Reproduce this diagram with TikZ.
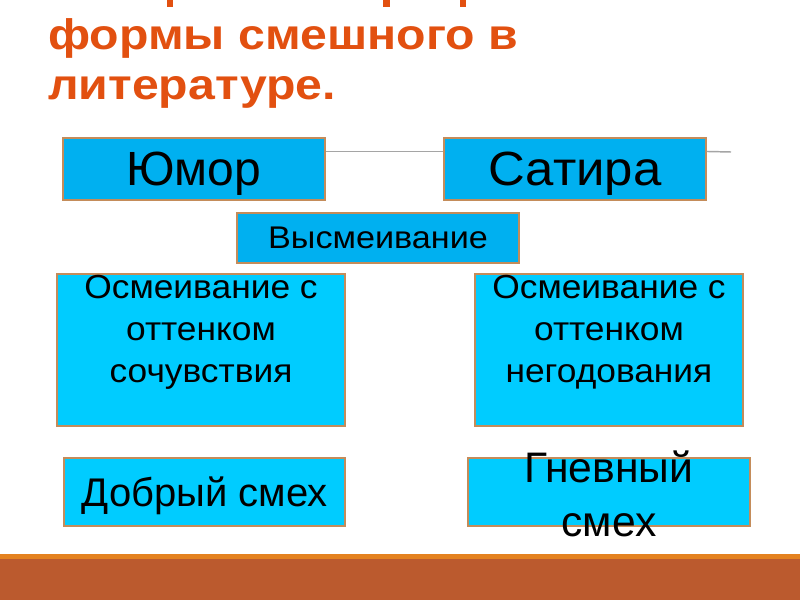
\documentclass[tikz,border=0pt]{standalone}
\usepackage{fontspec}
\setmainfont{Liberation Sans}
\newfontfamily\widefont[FakeStretch=1.06]{Liberation Sans}
\newfontfamily\widerfont[FakeStretch=1.09]{Liberation Sans}
\newfontfamily\titlefont[FakeStretch=1.13]{Liberation Sans}
\usetikzlibrary{calc}
\definecolor{titlecol}{RGB}{226,80,16}
\definecolor{topblue}{RGB}{0,176,240}
\definecolor{lowcyan}{RGB}{0,204,255}
\definecolor{edgecol}{RGB}{196,140,90}
\definecolor{linegray}{RGB}{165,165,165}
\definecolor{barorange}{RGB}{228,130,32}
\definecolor{barbrown}{RGB}{187,90,46}
\begin{document}
\begin{tikzpicture}[x=0.75pt,y=-0.75pt,
  boxstyle/.style={draw=edgecol, line width=0.8pt, inner sep=0pt, text=black, text depth=0pt},
  topbox/.style={boxstyle, fill=topblue, minimum width={262*0.75pt}, minimum height={62*0.75pt}},
  midbox/.style={boxstyle, fill=topblue, minimum width={282*0.75pt}, minimum height={50*0.75pt}, font=\widerfont\fontsize{23.5pt}{28pt}\selectfont},
  bigbox/.style={boxstyle, fill=lowcyan, minimum height={152*0.75pt}},
  lowbox/.style={boxstyle, fill=lowcyan, minimum width={282*0.75pt}, minimum height={68*0.75pt}},
  bodytext/.style={inner sep=0pt, align=center, text=black},
  titletext/.style={inner sep=0pt, anchor=base west, text=titlecol, font=\titlefont\fontsize{32pt}{39pt}\selectfont\bfseries},
  connector/.style={draw=linegray, line width=1.1pt}
]
\useasboundingbox (0,0) rectangle (800,600);
\fill[white] (0,0) rectangle (800,600);

% title (first line cut off at the top edge)
\fill[titlecol] (167,0) rectangle (173,7);
\fill[titlecol] (383,0) rectangle (390,7);
\fill[titlecol] (460,0) rectangle (466,7);
\node[titletext] (title1) at (48,49) {формы смешного в};
\node[titletext] (title2) at (48,99) {литературе.};

% top boxes
\node[topbox, font=\fontsize{36pt}{40pt}\selectfont] (humor) at (194,169) {Юмор};
\node[topbox, font=\widefont\fontsize{36pt}{40pt}\selectfont] (satire) at (575,169) {Сатира};
\node[midbox] (ridicule) at (378,238) {Высмеивание};
\coordinate (lineend) at (731,152);
\draw[connector] ($(humor.north east)+(0,14)$) -- ($(satire.north west)+(0,14)$);
\draw[connector] ($(satire.north east)+(0,14)$) -- (lineend);

% big boxes
\node[bigbox, minimum width={288*0.75pt}] (mockA) at (201,350) {};
\node[bigbox, minimum width={268*0.75pt}] (mockB) at (609,350) {};
\node[bodytext, anchor=north, font=\widefont\fontsize{25pt}{31.5pt}\selectfont] (mockAtext) at ($(mockA.north)+(0,1)$) {Осмеивание с\\оттенком\\сочувствия};
\node[bodytext, anchor=north, font=\widefont\fontsize{25pt}{31.5pt}\selectfont] (mockBtext) at ($(mockB.north)+(0,1)$) {Осмеивание с\\оттенком\\негодования};

% bottom boxes
\node[lowbox, minimum width={281*0.75pt}, font=\fontsize{30pt}{36pt}\selectfont] (kind) at (204.5,492) {Добрый смех};
\node[lowbox] (angry) at (609,492) {};
\node[bodytext, font=\fontsize{32pt}{40pt}\selectfont] (angrytext) at (609,494) {Гневный\\смех};

% footer bar
\fill[barorange] (0,554) rectangle (800,559);
\fill[barbrown] (0,559) rectangle (800,600);
\end{tikzpicture}
\end{document}
